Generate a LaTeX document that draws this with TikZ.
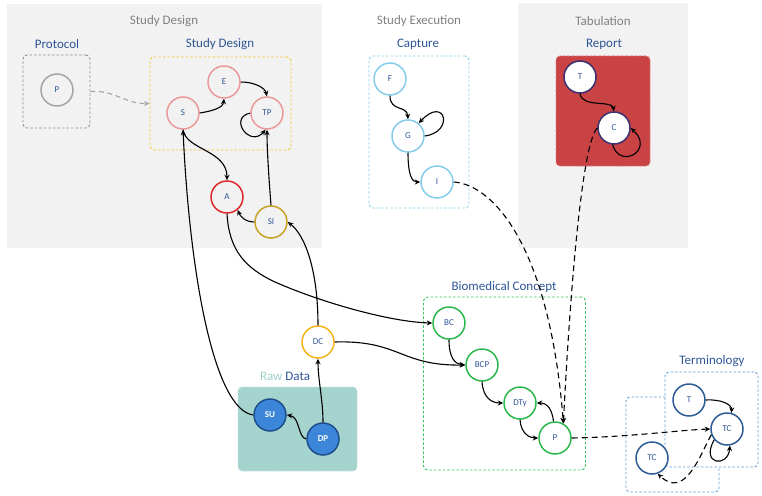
\documentclass[tikz,border=0pt]{standalone}
\usepackage{fontspec}
\setmainfont{Carlito}
\usetikzlibrary{arrows.meta}
\definecolor{panel}{HTML}{F2F2F2}
\definecolor{tgray}{HTML}{808080}
\definecolor{tblue}{HTML}{2F5597}
\definecolor{pinkc}{HTML}{EA9A9A}
\definecolor{redc}{HTML}{DE2A2E}
\definecolor{goldc}{HTML}{C9A227}
\definecolor{ambc}{HTML}{F5B41E}
\definecolor{pgray}{HTML}{A6A6A6}
\definecolor{boxgray}{HTML}{8C8C8C}
\definecolor{lblue}{HTML}{86CDEB}
\definecolor{sdyel}{HTML}{F7C531}
\definecolor{repred}{HTML}{C94244}
\definecolor{repedge}{HTML}{E07A7A}
\definecolor{purp}{HTML}{3B3170}
\definecolor{tealc}{HTML}{A5D3CD}
\definecolor{tealedge}{HTML}{C2E2DE}
\definecolor{rawtxt}{HTML}{9FD0CA}
\definecolor{sufill}{HTML}{3B86D8}
\definecolor{sudraw}{HTML}{1F4E8C}
\definecolor{grn}{HTML}{2DB84E}
\definecolor{grnbox}{HTML}{35C35C}
\definecolor{termb}{HTML}{5B9BD5}
\definecolor{termc}{HTML}{2E5C96}
\tikzset{
  nd/.style={circle, minimum size=32pt, inner sep=0pt, line width=1.5pt, fill=white,
    font=\fontsize{9}{10}\selectfont, text=tblue},
  grp/.style={rectangle, rounded corners=4pt, dash pattern=on 2.5pt off 2pt, line width=0.9pt, inner sep=0pt},
  edge/.style={line width=1.1pt, -{Stealth[length=5.5pt,width=5pt]}},
  dedge/.style={edge, dash pattern=on 6pt off 4pt},
  gtitle/.style={text=tgray, font=\fontsize{13}{15}\selectfont},
  btitle/.style={text=tblue, font=\fontsize{13}{15}\selectfont},
}
\begin{document}
\begin{tikzpicture}[x=1pt,y=-1pt]
\useasboundingbox (0,0) rectangle (762,495);
% panels
\fill[panel] (7,4) rectangle (322,248);
\fill[panel] (518,3) rectangle (688,248);
% titles
\node[gtitle] (t1) at (164,21) {Study Design};
\node[gtitle] (t2) at (419,21) {Study Execution};
\node[gtitle] (t3) at (603,21) {Tabulation};
\node[btitle] (t4) at (57,44) {Protocol};
\node[btitle] (t5) at (220,44) {Study Design};
\node[btitle] (t6) at (418,44) {Capture};
\node[btitle] (t7) at (604,44) {Report};
\node[btitle] (t8) at (504,287) {Biomedical Concept};
\node[btitle] (t9) at (712,361) {Terminology};
\node[btitle] (t10) at (285,376) {\textcolor{rawtxt}{Raw} Data};
% group boxes
\node[grp, draw=boxgray, minimum width=67pt, minimum height=73pt] (protobox) at (56.5,91.5) {};
\node[grp, draw=sdyel, minimum width=141pt, minimum height=93pt] (sdbox) at (220.5,103.5) {};
\node[grp, draw=lblue, minimum width=100pt, minimum height=152pt] (capbox) at (419,132) {};
\node[grp, draw=repedge, fill=repred, minimum width=94pt, minimum height=110pt] (repbox) at (603,111) {};
\node[grp, draw=tealedge, fill=tealc, minimum width=119pt, minimum height=84pt] (rawbox) at (297.5,429) {};
\node[grp, draw=grnbox, minimum width=162pt, minimum height=173pt] (bcbox) at (504.5,383.5) {};
\node[grp, draw=termb, minimum width=93pt, minimum height=95pt] (termboxb) at (672.5,444.5) {};
\node[grp, draw=termb, fill=white, minimum width=93pt, minimum height=95pt] (termboxa) at (711.5,419.5) {};
% nodes
\node[nd, draw=pgray, fill=panel] (Pp) at (57,90) {P};
\node[nd, draw=pinkc, fill=panel] (S) at (183,113) {S};
\node[nd, draw=pinkc, fill=panel] (E) at (224,82) {E};
\node[nd, draw=pinkc, fill=panel] (TP) at (267,113) {TP};
\node[nd, draw=redc, fill=panel] (A) at (227,197) {A};
\node[nd, draw=goldc, fill=panel] (SI) at (271,222) {SI};
\node[nd, draw=lblue] (F) at (390,79) {F};
\node[nd, draw=lblue] (G) at (408,136) {G};
\node[nd, draw=lblue] (I) at (437,182) {I};
\node[nd, draw=purp] (T) at (580,77) {T};
\node[nd, draw=purp] (C) at (614,128) {C};
\node[nd, draw=ambc] (DC) at (318,342) {DC};
\node[nd, draw=sudraw, fill=sufill, text=white, font=\fontsize{9}{10}\selectfont\bfseries] (SU) at (270,415) {SU};
\node[nd, draw=sudraw, fill=sufill, text=white, font=\fontsize{9}{10}\selectfont\bfseries] (DP) at (323,439) {DP};
\node[nd, draw=grn] (BC) at (449,323) {BC};
\node[nd, draw=grn] (BCP) at (482,365) {BCP};
\node[nd, draw=grn] (DTy) at (520,403) {DTy};
\node[nd, draw=grn] (P) at (555,438) {P};
\node[nd, draw=termc] (Tt) at (689,400) {T};
\node[nd, draw=termc] (TCr) at (727,429) {TC};
\node[nd, draw=termc] (TCl) at (652,458) {TC};
% connectors
\draw[line width=1.1pt, pgray, dash pattern=on 5pt off 3.5pt, -{Stealth[length=5.5pt,width=5pt]}]
  (protobox.east) .. controls (115,90) and (125,104) .. (sdbox.west);
\draw[edge] (S.east) .. controls (212,111) and (223,108) .. (E.south);
\draw[edge] (E.east) .. controls (255,82) and (265,88) .. (TP.north);
\draw[edge] (TP.west) .. controls (228,118) and (250,148) .. (TP.-95);
\draw[edge] (S.south) .. controls (186,150) and (227,150) .. (A.north);
\draw[edge] (SU.west) .. controls (215,410) and (190,280) .. (S.south);
\draw[edge] (A.south) .. controls (229,250) and (245,268) .. (275,282)
  .. controls (320,302) and (390,322) .. (BC.west);
\draw[edge] (SI.west) .. controls (245,222) and (240,216) .. (A.-50);
\draw[edge] (SI.north) .. controls (269,180) and (267,150) .. (TP.south);
\draw[edge] (DC.north) .. controls (318,270) and (305,235) .. (SI.east);
\draw[edge] (DP.north) .. controls (323,400) and (318,380) .. (DC.south);
\draw[edge] (DP.west) .. controls (298,438) and (300,417) .. (SU.east);
\draw[edge] (DC.east) .. controls (400,340) and (400,366) .. (BCP.west);
\draw[edge] (BC.south) .. controls (449,358) and (455,364) .. (BCP.west);
\draw[edge] (BCP.south) .. controls (483,398) and (492,403) .. (DTy.west);
\draw[edge] (DTy.south) .. controls (521,434) and (530,438) .. (P.west);
\draw[edge] (P.95) .. controls (552,410) and (548,403) .. (DTy.east);
\draw[edge] (F.south) .. controls (390,112) and (407,105) .. (G.north);
\draw[edge] (G.east) .. controls (455,132) and (445,95) .. (G.50);
\draw[edge] (G.south) .. controls (408,175) and (412,182) .. (I.west);
\draw[edge] (T.south) .. controls (582,108) and (612,100) .. (C.north);
\draw[edge] (C.-95) .. controls (620,170) and (655,150) .. (C.east);
\draw[dedge] (I.east) .. controls (495,185) and (550,250) .. (P.60);
\draw[dedge] (C.west) .. controls (580,145) and (568,330) .. (P.60);
\draw[dedge] (P.east) .. controls (630,437) and (680,430) .. (TCr.west);
\draw[dedge] (TCr.200) .. controls (700,455) and (685,500) .. (TCl.-70);
\draw[edge] (TCr.220) .. controls (700,465) and (728,468) .. (TCr.-80);
\draw[edge] (Tt.east) .. controls (722,399) and (732,405) .. (TCr.75);
\end{tikzpicture}
\end{document}
